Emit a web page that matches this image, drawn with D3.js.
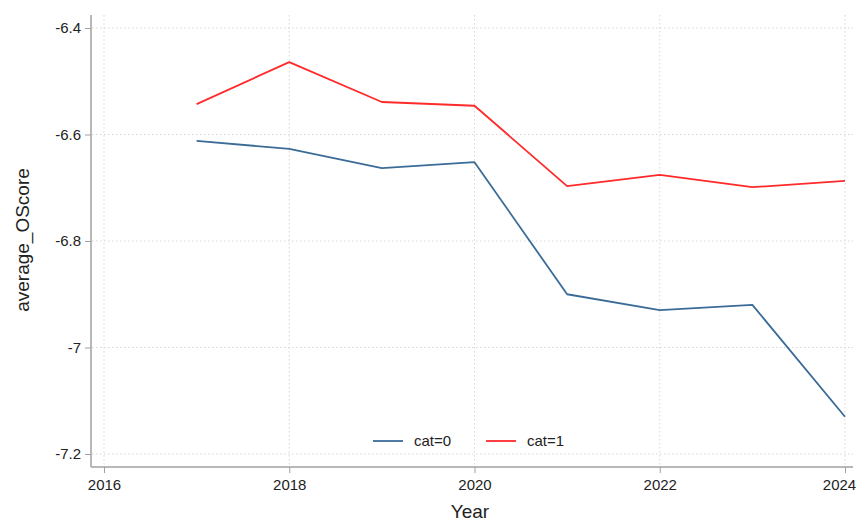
<!DOCTYPE html>
<html>
<head>
<meta charset="utf-8">
<script src="https://cdn.jsdelivr.net/npm/d3@7"></script>
<style>
  html, body { margin: 0; padding: 0; background: #fff; }
  svg { display: block; font-family: "Liberation Sans", Arial, Helvetica, sans-serif; }
</style>
</head>
<body>
<svg id="chart" width="860" height="523"></svg>
<script>
// Yearly averages of OScore by category
const years = [2017, 2018, 2019, 2020, 2021, 2022, 2023, 2024];
const cat0 = [-6.612, -6.627, -6.663, -6.652, -6.900, -6.930, -6.920, -7.130];
const cat1 = [-6.543, -6.464, -6.539, -6.546, -6.697, -6.676, -6.699, -6.687];
const xTicks = [2016, 2018, 2020, 2022, 2024];
const yTicks = [-6.4, -6.6, -6.8, -7, -7.2];
const yTickLabels = ["-6.4", "-6.6", "-6.8", "-7", "-7.2"];
const seriesNames = ["cat=0", "cat=1"];
const seriesColors = ["#3b6b97", "#ff2a2a"];

const svg = d3.select("#chart");
const frame = { left: 91, right: 853, top: 15, bottom: 467 };

const x = d3.scaleLinear().domain([2016, 2024]).range([104, 845]);
const y = d3.scaleLinear().domain([-6.4, -7.2]).range([28, 454]);

const axisColor = "#a0a0a0";
const gridColor = "#d6d6d6";

// grid
const grid = svg.append("g");
grid.selectAll("line.h").data(yTicks).join("line")
  .attr("x1", frame.left + 1).attr("x2", frame.right)
  .attr("y1", d => y(d)).attr("y2", d => y(d))
  .attr("stroke", gridColor).attr("stroke-width", 1).attr("stroke-dasharray", "1.5,2.5");
grid.selectAll("line.v").data(xTicks).join("line")
  .attr("x1", d => x(d)).attr("x2", d => x(d))
  .attr("y1", frame.top).attr("y2", frame.bottom - 1)
  .attr("stroke", gridColor).attr("stroke-width", 1).attr("stroke-dasharray", "1.5,2.5");

// axes
const yAxis = d3.axisLeft(y).tickValues(yTicks).tickSize(6).tickPadding(4)
  .tickFormat((d, i) => yTickLabels[i]);
const xAxis = d3.axisBottom(x).tickValues(xTicks).tickSize(6).tickPadding(6)
  .tickFormat(d3.format("d"));

const gy = svg.append("g").attr("transform", `translate(${frame.left},0)`).call(yAxis);
gy.select(".domain").attr("d", `M0,${frame.top}V${frame.bottom}`);
const gx = svg.append("g").attr("transform", `translate(0,${frame.bottom})`).call(xAxis);
gx.select(".domain").attr("d", `M${frame.left},0H${frame.right}`);

[gx, gy].forEach(g => {
  g.select(".domain").attr("stroke", axisColor).attr("stroke-width", 1.5);
  g.selectAll(".tick line").attr("stroke", axisColor).attr("stroke-width", 1);
  g.selectAll(".tick text").attr("fill", "#222").attr("font-size", 15)
    .attr("font-family", "Liberation Sans, Arial, sans-serif");
});
// keep the last year label inside the canvas
gx.selectAll(".tick text").filter(d => d === 2024).attr("dx", -6);

// axis titles
svg.append("text").attr("x", 470).attr("y", 518).attr("text-anchor", "middle")
  .attr("font-size", 19).attr("fill", "#222").text("Year");
svg.append("text").attr("transform", "translate(29,240) rotate(-90)")
  .attr("text-anchor", "middle").attr("font-size", 19).attr("fill", "#222")
  .text("average_OScore");

// lines
const line = d3.line().x(d => x(d[0])).y(d => y(d[1]));
[cat0, cat1].forEach((vals, i) => {
  svg.append("path")
    .datum(years.map((yr, j) => [yr, vals[j]]))
    .attr("fill", "none").attr("stroke", seriesColors[i]).attr("stroke-width", 1.8)
    .attr("stroke-linejoin", "round")
    .attr("d", line);
});

// legend
const legend = svg.append("g").attr("transform", "translate(373,441)");
seriesNames.forEach((name, i) => {
  const g = legend.append("g").attr("transform", `translate(${i * 113},0)`);
  g.append("line").attr("x1", 0).attr("x2", 30).attr("y1", 0).attr("y2", 0)
    .attr("stroke", seriesColors[i]).attr("stroke-width", 1.8);
  g.append("text").attr("x", 41).attr("y", 5).attr("font-size", 15).attr("fill", "#222").text(name);
});
</script>
</body>
</html>
